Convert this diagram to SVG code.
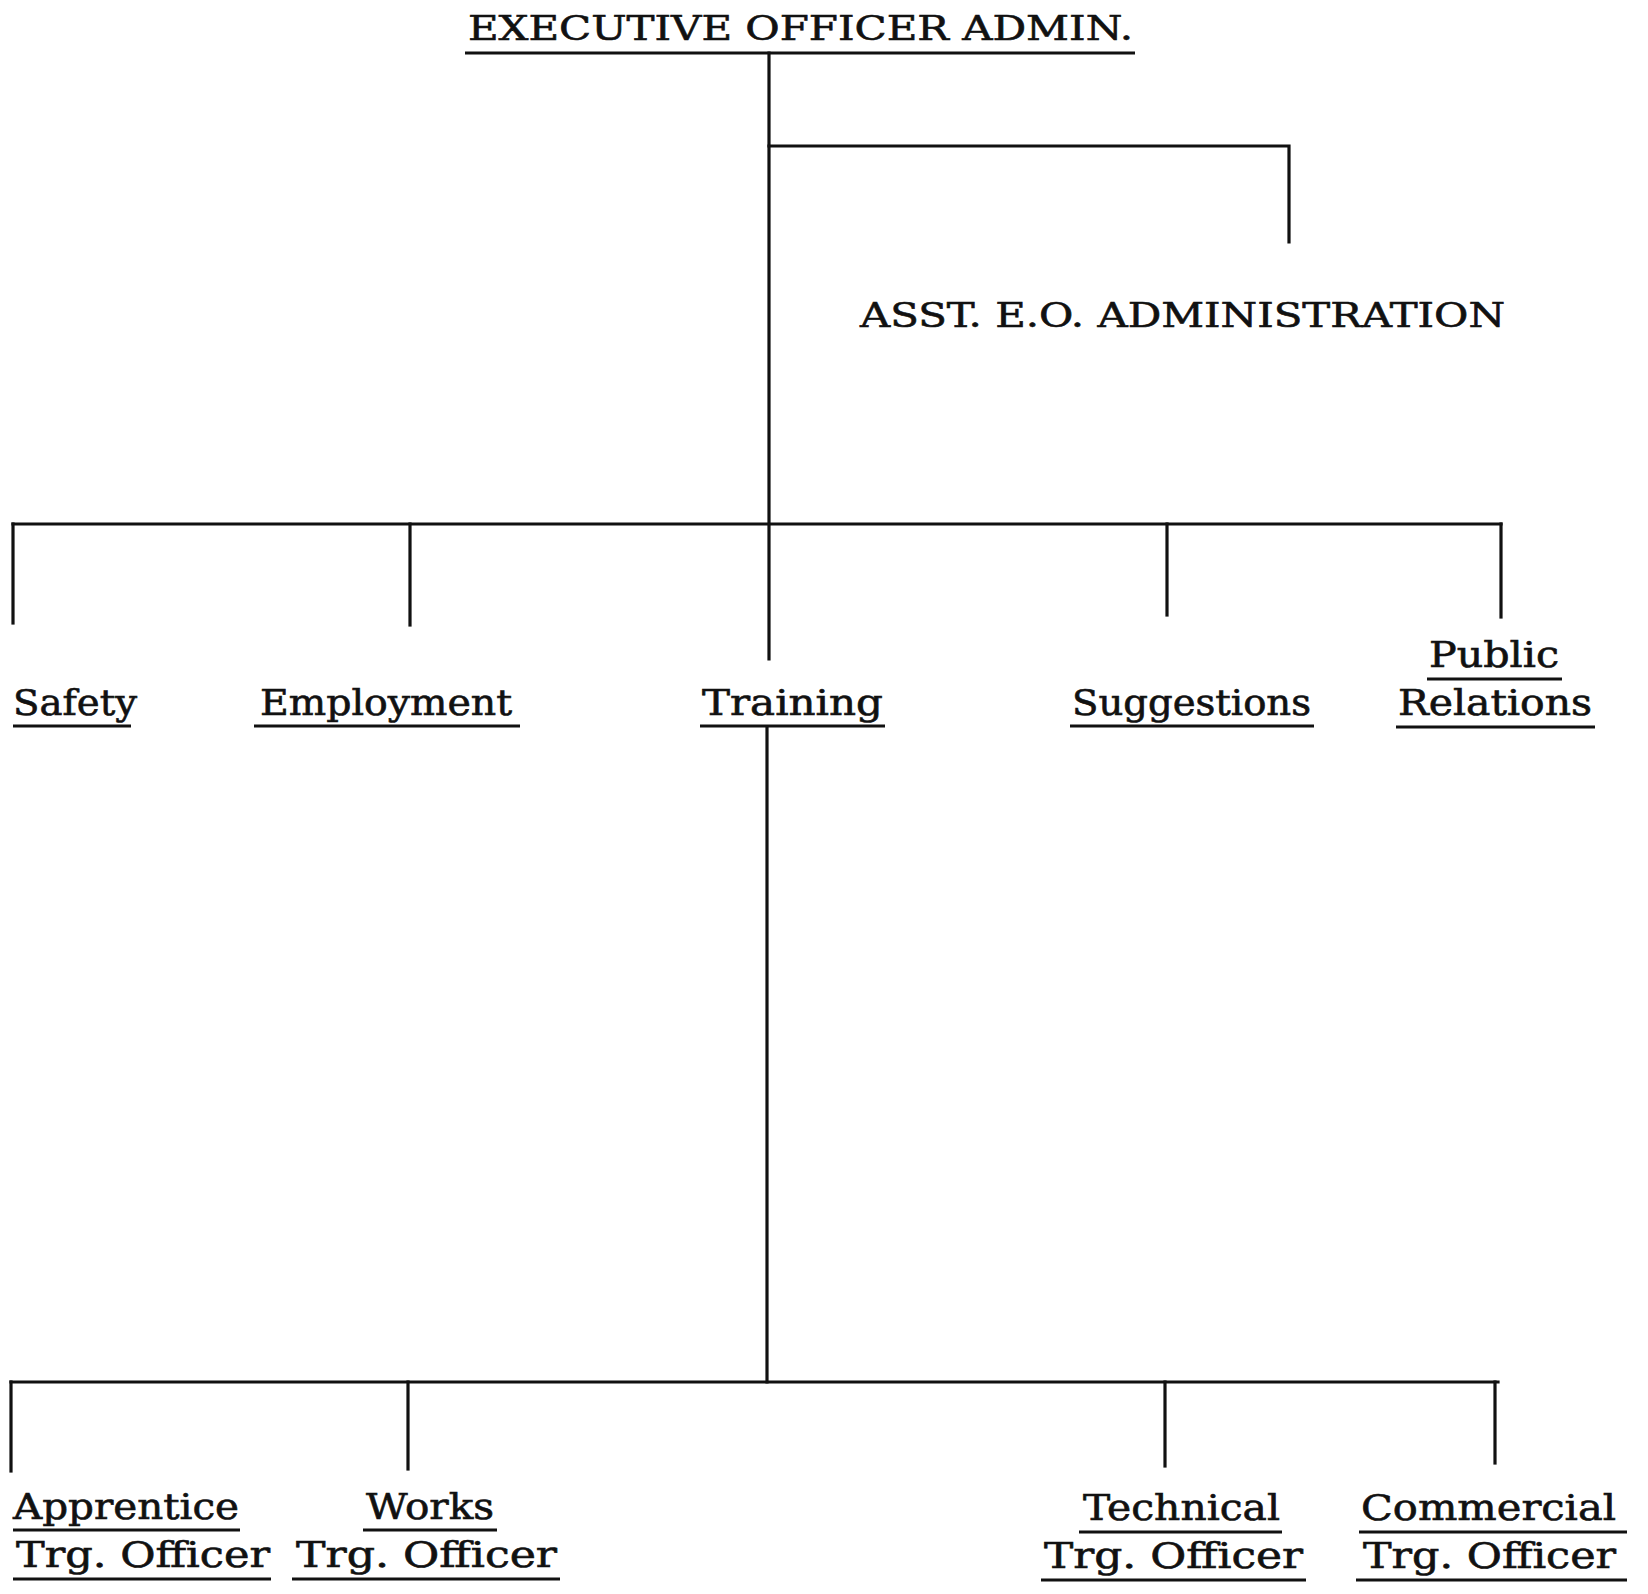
<svg xmlns="http://www.w3.org/2000/svg" width="1648" height="1594" viewBox="0 0 1648 1594">
<style>
.t{font-family:"DejaVu Serif","Liberation Serif",serif;font-size:35px;fill:#111;stroke:#111;stroke-width:0.6;}
.h{font-family:"DejaVu Serif","Liberation Serif",serif;font-size:33px;fill:#111;stroke:#111;stroke-width:0.6;}
.u{stroke:#111;stroke-width:3.2;fill:none;}
.c{stroke:#111;stroke-width:3.2;fill:none;stroke-linecap:square;}
</style>
<rect width="1648" height="1594" fill="#fff"/>
<g id="connectors">
<path class="c" d="M769 53 V659"/>
<path class="c" d="M769 146 H1289 V242"/>
<path class="c" d="M13 524 H1501"/>
<path class="c" d="M13 524 V623"/>
<path class="c" d="M410 524 V625"/>
<path class="c" d="M1167 524 V615"/>
<path class="c" d="M1501 524 V617"/>
<path class="c" d="M767 727 V1382"/>
<path class="c" d="M11 1382 H1498"/>
<path class="c" d="M11 1382 V1471"/>
<path class="c" d="M408 1382 V1469"/>
<path class="c" d="M1165 1382 V1466"/>
<path class="c" d="M1495 1382 V1463"/>
</g>
<g id="exec">
<text class="h" x="468" y="40" textLength="665" lengthAdjust="spacingAndGlyphs">EXECUTIVE OFFICER ADMIN.</text>
<path class="u" d="M465 53 H1135"/>
</g>
<g id="asst">
<text class="h" x="860" y="327" textLength="645" lengthAdjust="spacingAndGlyphs">ASST. E.O. ADMINISTRATION</text>
</g>
<g id="safety">
<text class="t" x="13" y="715" textLength="124" lengthAdjust="spacingAndGlyphs">Safety</text>
<path class="u" d="M13 726 H131"/>
</g>
<g id="employment">
<text class="t" x="260" y="715" textLength="252" lengthAdjust="spacingAndGlyphs">Employment</text>
<path class="u" d="M254 726 H520"/>
</g>
<g id="training">
<text class="t" x="702" y="715" textLength="181" lengthAdjust="spacingAndGlyphs">Training</text>
<path class="u" d="M700 726 H885"/>
</g>
<g id="suggestions">
<text class="t" x="1072" y="715" textLength="239" lengthAdjust="spacingAndGlyphs">Suggestions</text>
<path class="u" d="M1070 726 H1314"/>
</g>
<g id="public-relations">
<text class="t" x="1429" y="667" textLength="130" lengthAdjust="spacingAndGlyphs">Public</text>
<path class="u" d="M1427 679 H1562"/>
<text class="t" x="1398" y="715" textLength="194" lengthAdjust="spacingAndGlyphs">Relations</text>
<path class="u" d="M1396 727 H1595"/>
</g>
<g id="apprentice">
<text class="t" x="13" y="1519" textLength="226" lengthAdjust="spacingAndGlyphs">Apprentice</text>
<path class="u" d="M13 1530 H240"/>
<text class="t" x="16" y="1567" textLength="254" lengthAdjust="spacingAndGlyphs">Trg. Officer</text>
<path class="u" d="M13 1579 H271"/>
</g>
<g id="works">
<text class="t" x="366" y="1519" textLength="128" lengthAdjust="spacingAndGlyphs">Works</text>
<path class="u" d="M363 1530 H497"/>
<text class="t" x="296" y="1567" textLength="261" lengthAdjust="spacingAndGlyphs">Trg. Officer</text>
<path class="u" d="M292 1579 H560"/>
</g>
<g id="technical">
<text class="t" x="1083" y="1520" textLength="197" lengthAdjust="spacingAndGlyphs">Technical</text>
<path class="u" d="M1079 1532 H1282"/>
<text class="t" x="1044" y="1568" textLength="259" lengthAdjust="spacingAndGlyphs">Trg. Officer</text>
<path class="u" d="M1041 1580 H1306"/>
</g>
<g id="commercial">
<text class="t" x="1361" y="1520" textLength="255" lengthAdjust="spacingAndGlyphs">Commercial</text>
<path class="u" d="M1359 1532 H1627"/>
<text class="t" x="1363" y="1568" textLength="253" lengthAdjust="spacingAndGlyphs">Trg. Officer</text>
<path class="u" d="M1356 1580 H1627"/>
</g>
</svg>
